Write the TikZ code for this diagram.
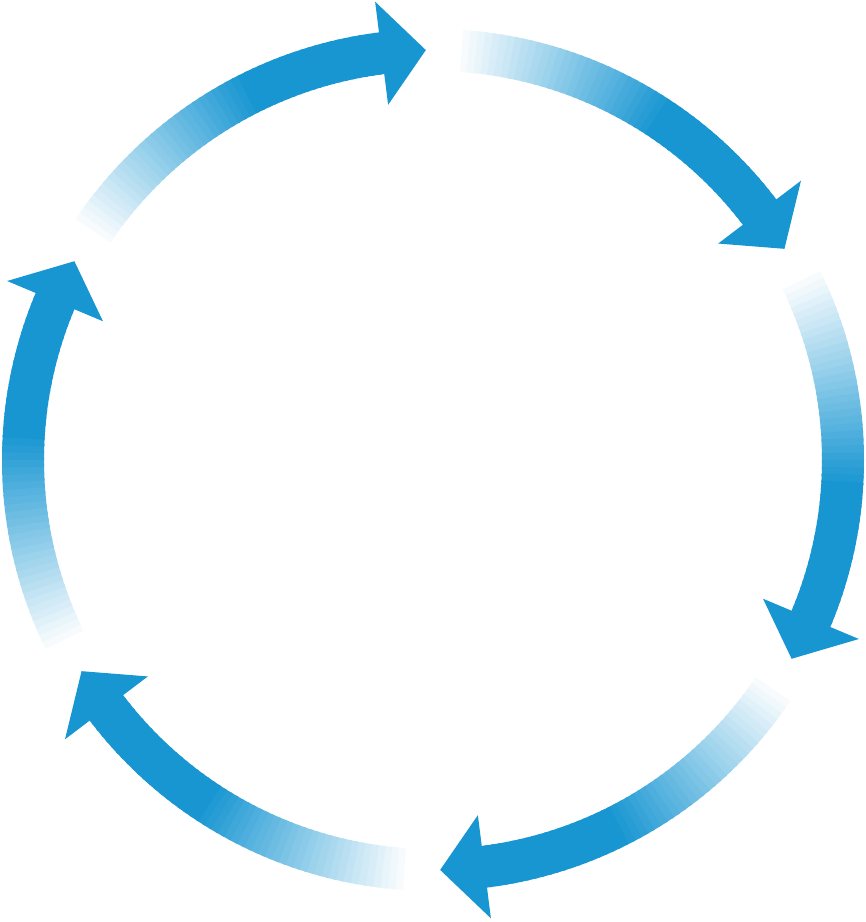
\documentclass[tikz,border=0pt]{standalone}
\definecolor{cb}{HTML}{1896D2}
\begin{document}
\begin{tikzpicture}[x=1pt,y=1pt]
\useasboundingbox (0,0) rectangle (866,922);
\begin{scope}[shift={(433,462)}]
\foreach \k in {0,...,5}{
  \pgfmathsetmacro\tip{91-60*\k}
  \foreach \i in {0,...,49}{
    \pgfmathsetmacro\s{\tip+56-\i}
    \pgfmathsetmacro\e{\s-1.4}
    \pgfmathsetmacro\t{min(100,\i*100/30)}
    \fill[cb!\t!white] (\s:431pt) arc[start angle=\s,end angle=\e,radius=431pt]
      -- (\e:389pt) arc[start angle=\e,end angle=\s,radius=389pt] -- cycle;
  }
  \fill[cb] (\tip+6.2:358pt) -- (\tip:410pt) -- (\tip+6.2:462pt) -- cycle;
}
\end{scope}
\end{tikzpicture}
\end{document}
